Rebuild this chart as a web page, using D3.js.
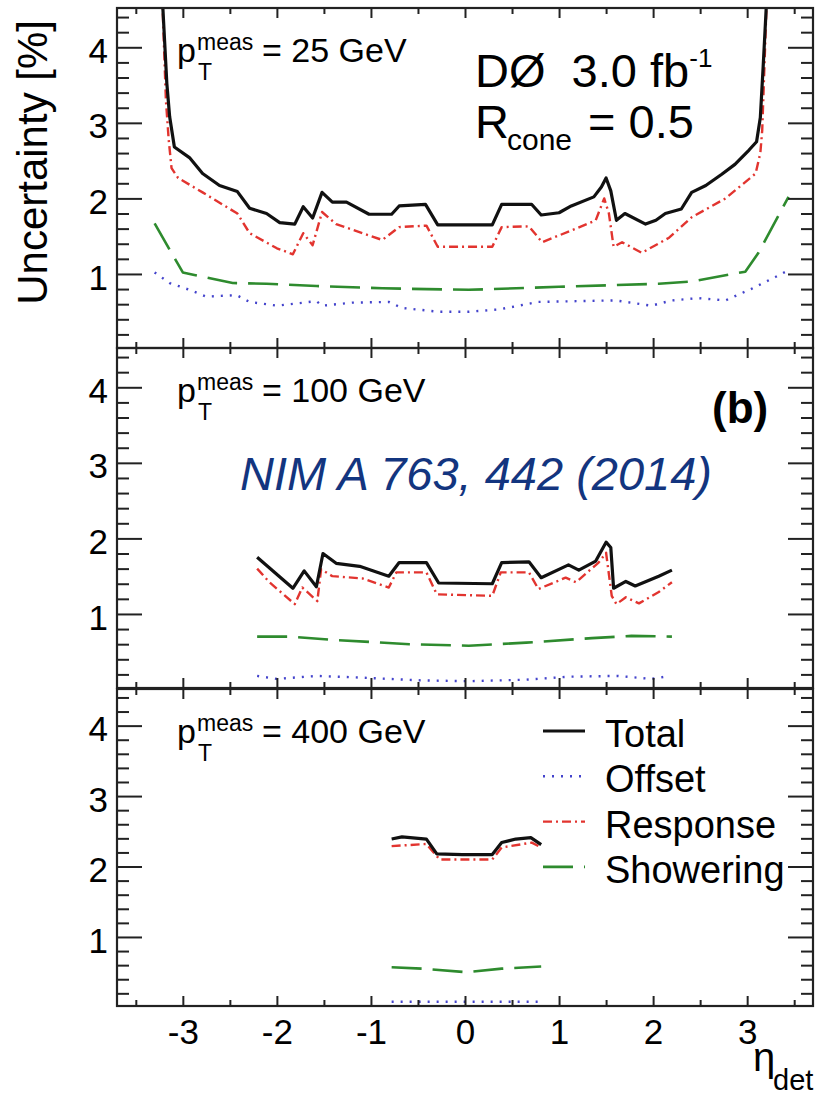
<!DOCTYPE html>
<html>
<head>
<meta charset="utf-8">
<script src="https://cdn.jsdelivr.net/npm/d3@7"></script>
<style>
  html, body { margin: 0; padding: 0; background: #fff; }
  svg { display: block; font-family: "Liberation Sans", Arial, Helvetica, sans-serif; }
  text { white-space: pre; }
</style>
</head>
<body>
<svg id="chart" width="815" height="1095"></svg>
<script>
// ---- axis ticks and labels ----
const etaTicks = [-3, -2, -1, 0, 1, 2, 3];
const etaMinorTicks = [-3.5, -2.5, -1.5, -0.5, 0.5, 1.5, 2.5, 3.5];
const uncTicks = [1, 2, 3, 4];
const uncMinorTicks = [0.2, 0.4, 0.6, 0.8, 1.2, 1.4, 1.6, 1.8, 2.2, 2.4, 2.6, 2.8,
                       3.2, 3.4, 3.6, 3.8, 4.2, 4.4];
const ptValues = ["25", "100", "400"];
const seriesNames = ["Total", "Offset", "Response", "Showering"];

// ---- jet energy scale uncertainties [%] vs eta_det, pT = 25 GeV ----
const total25 = [[-3.22,4.7],[-3.17,3.52],[-3.14,3.08],[-3.09,2.68],[-2.93,2.54],[-2.79,2.33],
  [-2.61,2.17],[-2.42,2.09],[-2.29,1.87],[-2.11,1.80],[-1.97,1.68],[-1.81,1.66],[-1.72,1.89],
  [-1.62,1.74],[-1.52,2.08],[-1.41,1.95],[-1.26,1.95],[-1.02,1.79],[-0.78,1.79],[-0.70,1.90],
  [-0.42,1.92],[-0.29,1.65],[0.29,1.65],[0.39,1.92],[0.71,1.92],[0.81,1.78],[1.00,1.81],
  [1.13,1.90],[1.37,2.02],[1.45,2.15],[1.50,2.27],[1.55,2.10],[1.61,1.71],[1.70,1.80],
  [1.92,1.66],[2.03,1.71],[2.13,1.80],[2.30,1.86],[2.41,2.08],[2.56,2.17],[2.73,2.32],
  [2.87,2.45],[3.02,2.64],[3.10,2.75],[3.14,3.07],[3.17,3.74],[3.21,4.7]];
const offset25 = [[-3.30,1.02],[-3.14,0.88],[-2.93,0.79],[-2.75,0.70],[-2.43,0.72],[-2.29,0.63],
  [-2.00,0.58],[-1.58,0.64],[-1.52,0.58],[-1.20,0.62],[-0.81,0.63],[-0.67,0.55],[-0.28,0.50],
  [0.04,0.50],[0.36,0.53],[0.78,0.63],[1.18,0.64],[1.60,0.65],[1.98,0.58],[2.20,0.65],
  [2.48,0.68],[2.77,0.65],[3.04,0.80],[3.30,0.96],[3.44,1.05]];
const response25 = [[-3.22,4.7],[-3.18,3.30],[-3.15,2.77],[-3.12,2.40],[-3.05,2.27],[-2.79,2.08],
  [-2.42,1.80],[-2.29,1.54],[-2.00,1.34],[-1.83,1.26],[-1.72,1.54],[-1.62,1.38],[-1.52,1.82],
  [-1.37,1.66],[-0.88,1.45],[-0.70,1.62],[-0.41,1.64],[-0.29,1.36],[0.29,1.36],[0.39,1.62],
  [0.68,1.63],[0.82,1.42],[1.18,1.60],[1.39,1.71],[1.48,2.00],[1.53,1.80],[1.58,1.36],
  [1.67,1.42],[1.88,1.28],[2.17,1.48],[2.41,1.75],[2.77,2.00],[3.09,2.33],[3.14,2.60],
  [3.16,2.90],[3.21,4.7]];
const showering25 = [[-3.30,1.67],[-3.14,1.32],[-3.00,1.02],[-2.89,0.99],[-2.47,0.88],
  [-2.11,0.87],[-1.58,0.84],[-0.88,0.81],[0.04,0.79],[1.00,0.83],[2.06,0.87],[2.41,0.90],
  [2.98,1.03],[3.12,1.28],[3.44,2.02]];

// ---- pT = 100 GeV ----
const total100 = [[-2.21,1.75],[-1.83,1.34],[-1.71,1.57],[-1.58,1.36],[-1.51,1.80],[-1.37,1.67],
  [-1.12,1.63],[-0.81,1.50],[-0.70,1.68],[-0.41,1.68],[-0.28,1.41],[0.29,1.40],[0.39,1.68],
  [0.68,1.69],[0.81,1.48],[1.10,1.65],[1.21,1.58],[1.39,1.70],[1.50,1.95],[1.55,1.88],
  [1.58,1.34],[1.71,1.43],[1.81,1.37],[2.06,1.50],[2.20,1.58]];
const offset100 = [[-2.21,0.18],[-2.00,0.14],[-1.58,0.18],[-1.16,0.16],[-0.45,0.12],[0.04,0.11],
  [0.65,0.13],[1.10,0.17],[1.63,0.18],[1.98,0.14],[2.18,0.18]];
const response100 = [[-2.21,1.60],[-2.08,1.42],[-1.81,1.13],[-1.73,1.35],[-1.57,1.17],[-1.53,1.59],
  [-1.41,1.50],[-1.09,1.47],[-0.81,1.35],[-0.73,1.55],[-0.41,1.55],[-0.30,1.26],[0.29,1.24],
  [0.38,1.55],[0.68,1.55],[0.78,1.33],[1.07,1.48],[1.18,1.42],[1.42,1.68],[1.50,1.81],
  [1.56,1.24],[1.61,1.13],[1.71,1.22],[1.85,1.14],[2.06,1.29],[2.20,1.42]];
const showering100 = [[-2.21,0.70],[-1.87,0.70],[-1.44,0.66],[-0.59,0.60],[0.04,0.58],
  [0.65,0.62],[1.35,0.68],[1.77,0.71],[2.20,0.70]];

// ---- pT = 400 GeV ----
const total400 = [[-0.78,2.39],[-0.67,2.42],[-0.41,2.39],[-0.30,2.18],[-0.03,2.17],[0.29,2.17],
  [0.39,2.34],[0.54,2.39],[0.70,2.41],[0.81,2.31]];
const offset400 = [[-0.78,0.08],[0.00,0.08],[0.78,0.08]];
const response400 = [[-0.78,2.29],[-0.41,2.32],[-0.27,2.10],[0.29,2.10],[0.39,2.27],
  [0.71,2.34],[0.81,2.27]];
const showering400 = [[-0.78,0.57],[-0.45,0.55],[0.02,0.50],[0.39,0.55],[0.81,0.58]];

const panelSeries = [
  [total25, offset25, response25, showering25],
  [total100, offset100, response100, showering100],
  [total400, offset400, response400, showering400]
];

// ---- styles ----
const lineStyles = [
  { color: "#111111", width: 3.2, dash: null },
  { color: "#4343cc", width: 2.4, dash: "2,7" },
  { color: "#e2342f", width: 2.4, dash: "9,4,2,4" },
  { color: "#2e8b2e", width: 2.6, dash: "30,11" }
];

const svg = d3.select("#chart");
const left = 117, right = 813;
const panels = [
  { top: 8, bottom: 348 },
  { top: 348, bottom: 688 },
  { top: 689, bottom: 1006 }
];

const x = d3.scaleLinear().domain([-3.7, 3.7]).range([left, right]);

panels.forEach((p, i) => {
  const y = d3.scaleLinear().domain([0.02, 4.52]).range([p.bottom, p.top]);
  const g = svg.append("g");

  // clip region for curves
  const clipId = "clip" + i;
  svg.append("clipPath").attr("id", clipId)
    .append("rect").attr("x", left).attr("y", p.top)
    .attr("width", right - left).attr("height", p.bottom - p.top);

  const line = d3.line().x(d => x(d[0])).y(d => y(d[1]));
  const curves = g.append("g").attr("clip-path", `url(#${clipId})`);
  // draw in order: showering, offset, response, total on top
  [3, 1, 2, 0].forEach(k => {
    const st = lineStyles[k];
    curves.append("path")
      .datum(panelSeries[i][k])
      .attr("d", line)
      .attr("fill", "none")
      .attr("stroke", st.color)
      .attr("stroke-width", st.width)
      .attr("stroke-linejoin", "round")
      .attr("stroke-dasharray", st.dash);
  });

  // axes with inward ticks
  const styleAxis = sel => {
    sel.select(".domain").remove();
    sel.selectAll(".tick line").attr("stroke", "#222").attr("stroke-width", 2);
  };
  g.append("g").attr("transform", `translate(${left},0)`)
    .call(d3.axisLeft(y).tickValues(uncTicks).tickSizeInner(-25).tickSizeOuter(0)
      .tickPadding(9).tickFormat(d3.format("d")))
    .call(styleAxis)
    .call(s => s.selectAll("text").attr("font-size", 35).attr("dy", "0.43em")
      .attr("fill", "#000").attr("font-family", "Liberation Sans, Arial, sans-serif"));
  g.append("g").attr("transform", `translate(${left},0)`)
    .call(d3.axisLeft(y).tickValues(uncMinorTicks).tickSizeInner(-12).tickSizeOuter(0).tickFormat(""))
    .call(styleAxis);
  g.append("g").attr("transform", `translate(${right},0)`)
    .call(d3.axisRight(y).tickValues(uncTicks).tickSizeInner(-25).tickSizeOuter(0).tickFormat(""))
    .call(styleAxis);
  g.append("g").attr("transform", `translate(${right},0)`)
    .call(d3.axisRight(y).tickValues(uncMinorTicks).tickSizeInner(-12).tickSizeOuter(0).tickFormat(""))
    .call(styleAxis);
  g.append("g").attr("transform", `translate(0,${p.top})`)
    .call(d3.axisTop(x).tickValues(etaTicks).tickSizeInner(-10).tickSizeOuter(0).tickFormat(""))
    .call(styleAxis);
  g.append("g").attr("transform", `translate(0,${p.top})`)
    .call(d3.axisTop(x).tickValues(etaMinorTicks).tickSizeInner(-6).tickSizeOuter(0).tickFormat(""))
    .call(styleAxis);
  const isLast = i === panels.length - 1;
  g.append("g").attr("transform", `translate(0,${p.bottom})`)
    .call(d3.axisBottom(x).tickValues(etaTicks).tickSizeInner(-10).tickSizeOuter(0)
      .tickPadding(13).tickFormat(isLast ? d3.format("d") : ""))
    .call(styleAxis)
    .call(s => s.selectAll("text").attr("font-size", 35).attr("fill", "#000")
      .attr("font-family", "Liberation Sans, Arial, sans-serif")
      .text(d => isLast ? String(d).replace("−", "-") : ""));
  g.append("g").attr("transform", `translate(0,${p.bottom})`)
    .call(d3.axisBottom(x).tickValues(etaMinorTicks).tickSizeInner(-6).tickSizeOuter(0).tickFormat(""))
    .call(styleAxis);

  // frame
  g.append("rect").attr("x", left).attr("y", p.top)
    .attr("width", right - left).attr("height", p.bottom - p.top)
    .attr("fill", "none").attr("stroke", "#222").attr("stroke-width", 2.2);

  // pT label
  const t = g.append("text").attr("x", 177).attr("y", p.top + 54)
    .attr("font-size", 34).attr("fill", "#000");
  t.append("tspan").text("p");
  t.append("tspan").attr("x", 197).attr("dy", -12).attr("font-size", 23).text("meas");
  t.append("tspan").attr("x", 198).attr("dy", 30).attr("font-size", 23).text("T");
  t.append("tspan").attr("x", 262).attr("dy", -18).text(`= ${ptValues[i]} GeV`);
});

// experiment label
const d0 = svg.append("text").attr("x", 475).attr("y", 87).attr("font-size", 47).attr("fill", "#000");
d0.append("tspan").text("DØ  3.0 fb");
d0.append("tspan").attr("dy", -20).attr("font-size", 26).text("-1");
const rc = svg.append("text").attr("x", 475).attr("y", 138).attr("font-size", 47).attr("fill", "#000");
rc.append("tspan").text("R");
rc.append("tspan").attr("x", 507).attr("dy", 12).attr("font-size", 30).text("cone");
rc.append("tspan").attr("x", 588).attr("dy", -12).text("= 0.5");

// panel tag and reference
svg.append("text").attr("x", 712).attr("y", 423).attr("font-size", 44)
  .attr("font-weight", "bold").attr("fill", "#000").text("(b)");
svg.append("text").attr("x", 240).attr("y", 490).attr("font-size", 47)
  .attr("font-style", "italic").attr("fill", "#13357f").text("NIM A 763, 442 (2014)");

// legend
seriesNames.forEach((name, k) => {
  const base = panels[2].top + 58 + k * 45.3;
  const st = lineStyles[k];
  svg.append("line").attr("x1", 543).attr("x2", 585)
    .attr("y1", base - 16).attr("y2", base - 16)
    .attr("stroke", st.color).attr("stroke-width", st.width)
    .attr("stroke-dasharray", st.dash);
  svg.append("text").attr("x", 605).attr("y", base).attr("font-size", 38)
    .attr("fill", "#000").text(name);
});

// axis titles
svg.append("text").attr("transform", "translate(47,20) rotate(-90)")
  .attr("text-anchor", "end").attr("font-size", 42).attr("fill", "#000")
  .text("Uncertainty [%]");
const et = svg.append("text").attr("x", 753).attr("y", 1071).attr("font-size", 40).attr("fill", "#000");
et.append("tspan").text("η");
et.append("tspan").attr("x", 773).attr("dy", 19).attr("font-size", 29).text("det");
</script>
</body>
</html>
